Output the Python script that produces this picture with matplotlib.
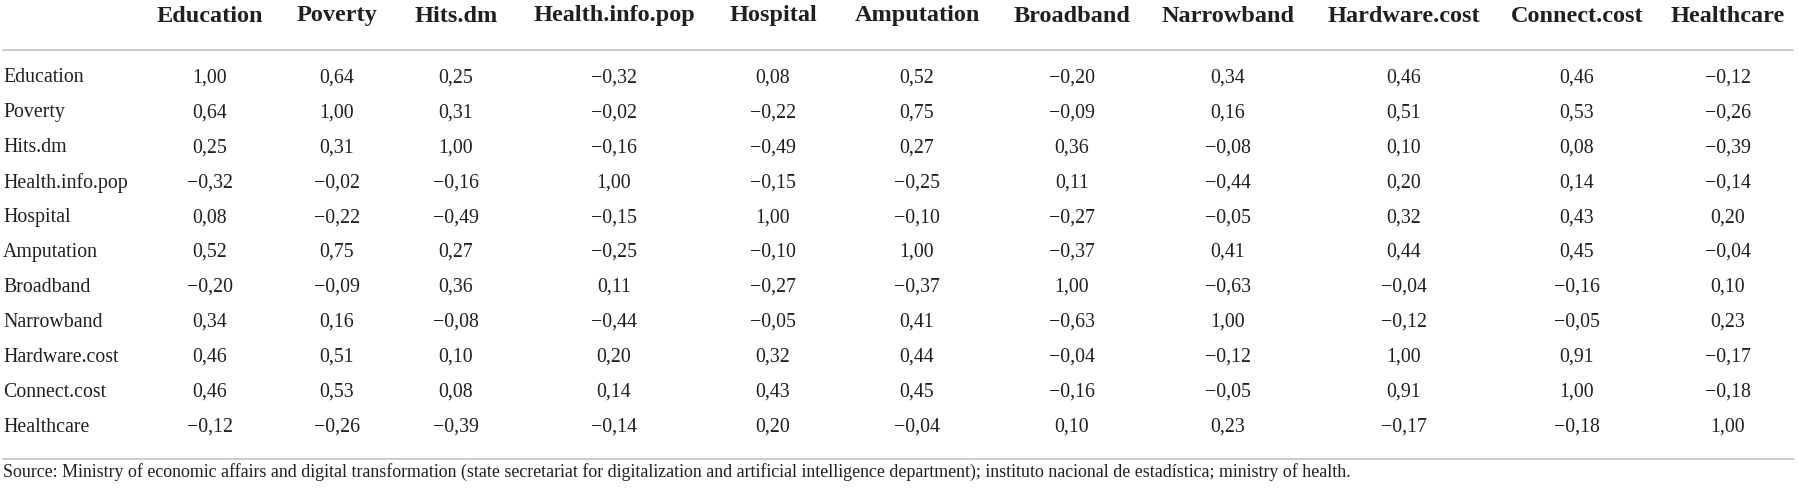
import matplotlib.pyplot as plt

# Данные таблицы корреляций
variables = ['Education', 'Poverty', 'Hits.dm', 'Health.info.pop', 'Hospital',
             'Amputation', 'Broadband', 'Narrowband', 'Hardware.cost',
             'Connect.cost', 'Healthcare']

corr = [
    [1.00, 0.64, 0.25, -0.32, 0.08, 0.52, -0.20, 0.34, 0.46, 0.46, -0.12],
    [0.64, 1.00, 0.31, -0.02, -0.22, 0.75, -0.09, 0.16, 0.51, 0.53, -0.26],
    [0.25, 0.31, 1.00, -0.16, -0.49, 0.27, 0.36, -0.08, 0.10, 0.08, -0.39],
    [-0.32, -0.02, -0.16, 1.00, -0.15, -0.25, 0.11, -0.44, 0.20, 0.14, -0.14],
    [0.08, -0.22, -0.49, -0.15, 1.00, -0.10, -0.27, -0.05, 0.32, 0.43, 0.20],
    [0.52, 0.75, 0.27, -0.25, -0.10, 1.00, -0.37, 0.41, 0.44, 0.45, -0.04],
    [-0.20, -0.09, 0.36, 0.11, -0.27, -0.37, 1.00, -0.63, -0.04, -0.16, 0.10],
    [0.34, 0.16, -0.08, -0.44, -0.05, 0.41, -0.63, 1.00, -0.12, -0.05, 0.23],
    [0.46, 0.51, 0.10, 0.20, 0.32, 0.44, -0.04, -0.12, 1.00, 0.91, -0.17],
    [0.46, 0.53, 0.08, 0.14, 0.43, 0.45, -0.16, -0.05, 0.91, 1.00, -0.18],
    [-0.12, -0.26, -0.39, -0.14, 0.20, -0.04, 0.10, 0.23, -0.17, -0.18, 1.00],
]

source = ('Source: Ministry of economic affairs and digital transformation '
          '(state secretariat for digitalization and artificial intelligence '
          'department); instituto nacional de estadística; ministry of health.')

# Центры столбцов в пикселях
col_x = [210, 337, 456, 614, 773, 917, 1072, 1228, 1404, 1577, 1728]
row_y0, row_step = 78, 34.9
text_color = '#231f20'
rule_color = '#c8c8c8'


def fmt(v):
    s = f'{abs(v):.2f}'.replace('.', ',')
    return ('\u2212' + s) if v < 0 else s


plt.rcParams['font.family'] = ['Liberation Serif', 'DejaVu Serif']

fig = plt.figure(figsize=(17.98, 4.95), dpi=100)
ax = fig.add_axes([0, 0, 1, 1])
ax.set_xlim(0, 1798)
ax.set_ylim(495, 0)
ax.axis('off')

# Заголовки столбцов
for x, name in zip(col_x, variables):
    ax.text(x, 16, name, ha='center', va='center', fontsize=17.5,
            fontweight='bold', color=text_color)

ax.plot([3, 1793], [50, 50], color=rule_color, lw=1.3)

# Строки таблицы
for i, (name, row) in enumerate(zip(variables, corr)):
    y = row_y0 + i * row_step
    ax.text(3, y, name, ha='left', va='center', fontsize=14.3,
            color=text_color)
    for x, v in zip(col_x, row):
        ax.text(x, y, fmt(v), ha='center', va='center', fontsize=14.3,
                color=text_color)

ax.plot([3, 1793], [459, 459], color=rule_color, lw=1.3)
ax.text(3, 472, source, ha='left', va='center', fontsize=12.9,
        color=text_color)

fig.savefig('out.png', dpi=100)
